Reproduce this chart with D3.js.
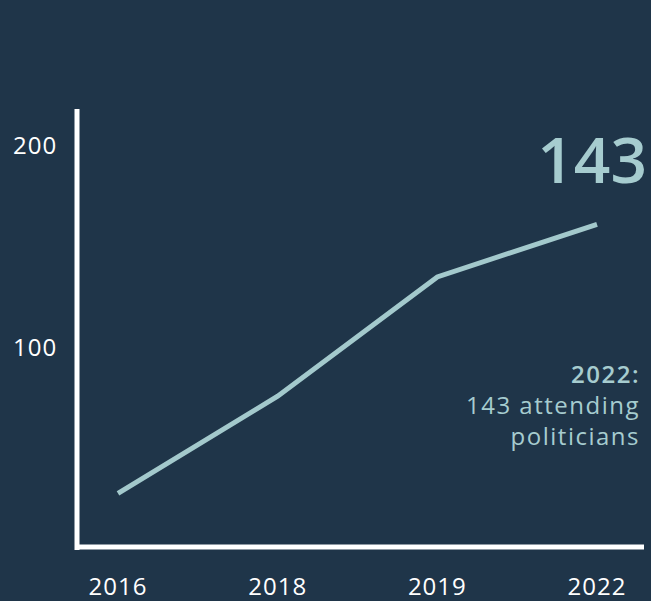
<!DOCTYPE html>
<html>
<head>
<meta charset="utf-8">
<script src="https://cdn.jsdelivr.net/npm/d3@7"></script>
<style>
  html, body { margin: 0; padding: 0; background: #1f3549; }
  svg { display: block; font-family: "Open Sans", sans-serif; }
</style>
</head>
<body>
<div id="chart"></div>
<script>
var w = 651;
var h = 601;

var years = ["2016", "2018", "2019", "2022"];
var attendees = [28, 76, 135, 161];
var yTicks = [100, 200];
var noteLines = ["2022:", "143 attending", "politicians"];

var svg = d3.select("#chart")
    .append("svg")
    .attr("width", w)
    .attr("height", h);

svg.append("rect")
    .attr("width", w)
    .attr("height", h)
    .attr("fill", "#1f3549");

var xScale = d3.scalePoint()
    .domain(years)
    .range([118, 597]);

var yScale = d3.scaleLinear()
    .domain([0, 218])
    .range([550, 109]);

// axis lines
svg.append("line")
    .attr("x1", 77).attr("x2", 77)
    .attr("y1", yScale(218)).attr("y2", 550)
    .attr("stroke", "white")
    .attr("stroke-width", 5);

svg.append("line")
    .attr("x1", 75).attr("x2", 644)
    .attr("y1", 547).attr("y2", 547)
    .attr("stroke", "white")
    .attr("stroke-width", 5);

// y tick labels
svg.selectAll(".ytick")
    .data(yTicks)
    .enter()
    .append("text")
    .attr("class", "ytick")
    .attr("x", 13)
    .attr("y", function (d) { return yScale(d); })
    .attr("dy", "0.35em")
    .attr("fill", "white")
    .attr("font-size", 24)
    .attr("letter-spacing", 1)
    .text(function (d) { return d; });

// x tick labels
svg.selectAll(".xtick")
    .data(years)
    .enter()
    .append("text")
    .attr("class", "xtick")
    .attr("x", function (d) { return xScale(d); })
    .attr("y", 595)
    .attr("text-anchor", "middle")
    .attr("fill", "white")
    .attr("font-size", 24)
    .attr("letter-spacing", 1)
    .text(function (d) { return d; });

// the line
var line = d3.line()
    .x(function (d, i) { return xScale(years[i]); })
    .y(function (d) { return yScale(d); });

svg.append("path")
    .datum(attendees)
    .attr("d", line)
    .attr("fill", "none")
    .attr("stroke", "#a3c9cc")
    .attr("stroke-width", 5)
    .attr("stroke-linejoin", "miter");

// big number
svg.append("text")
    .attr("x", 647)
    .attr("y", 183)
    .attr("text-anchor", "end")
    .attr("fill", "#a6cccf")
    .attr("font-size", 64)
    .attr("font-weight", 600)
    .text("143");

// annotation, one text per line
svg.selectAll(".note")
    .data(noteLines)
    .enter()
    .append("text")
    .attr("class", "note")
    .attr("x", 640)
    .attr("y", function (d, i) { return 383 + i * 31; })
    .attr("text-anchor", "end")
    .attr("fill", "#a6cccf")
    .attr("font-size", 24)
    .attr("letter-spacing", 1.5)
    .attr("font-weight", function (d, i) { return i === 0 ? 600 : 400; })
    .text(function (d) { return d; });
</script>
</body>
</html>
